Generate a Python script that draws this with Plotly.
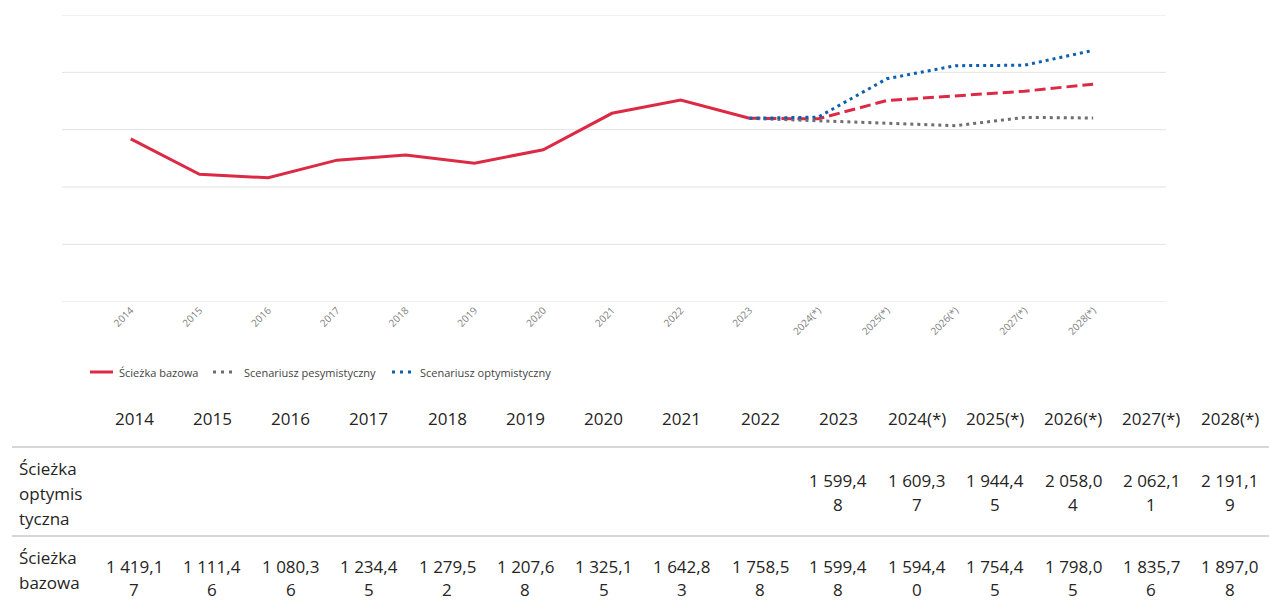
import plotly.graph_objects as go

# --- data -------------------------------------------------------------
years = ["2014", "2015", "2016", "2017", "2018", "2019", "2020", "2021",
         "2022", "2023", "2024(*)", "2025(*)", "2026(*)", "2027(*)", "2028(*)"]

base_hist = [1419.17, 1111.46, 1080.36, 1234.45, 1279.52, 1207.68, 1325.15,
             1642.83, 1758.58, 1599.48]
base_fcst = [1599.48, 1594.40, 1754.45, 1798.05, 1835.76, 1897.08]
optim = [1599.48, 1609.37, 1944.45, 2058.04, 2062.11, 2191.19]
pesym = [1599.48, 1580.0, 1560.0, 1535.0, 1607.0, 1602.0]

y_grid = [0, 500, 1000, 1500, 2000, 2500]

hist_years = years[:10]
fcst_years = years[9:]

W, H = 1269, 606
RED = "#dc2a45"
GREY = "#6e6e6e"
BLUE = "#0d5fb0"
TXT = "#252423"
GRID = "#e3e3e3"


def px(x):
    return x / W


def py(y):
    return 1 - y / H


def pl_num(v):
    """Polish number format: space thousands separator, comma decimals."""
    s = f"{v:,.2f}"
    return s.replace(",", " ").replace(".", ",")


def wrap(s, n=7):
    return [s[i:i + n] for i in range(0, len(s), n)]


fig = go.Figure()

fig.add_trace(go.Scatter(x=hist_years, y=base_hist, mode="lines",
                         line=dict(color=RED, width=3), name="Ścieżka bazowa"))
fig.add_trace(go.Scatter(x=fcst_years, y=base_fcst, mode="lines",
                         line=dict(color=RED, width=3, dash="11px,5px"),
                         name="Ścieżka bazowa (prognoza)"))
fig.add_trace(go.Scatter(x=fcst_years, y=pesym, mode="lines",
                         line=dict(color=GREY, width=3, dash="3px,4px"),
                         name="Scenariusz pesymistyczny"))
fig.add_trace(go.Scatter(x=fcst_years, y=optim, mode="lines",
                         line=dict(color=BLUE, width=3, dash="3px,4px"),
                         name="Scenariusz optymistyczny"))

shapes = []
annotations = []

# horizontal grid, including the lines at both ends of the value range
for g in y_grid:
    shapes.append(dict(type="line", xref="x domain", yref="y",
                       x0=0, x1=1, y0=g, y1=g, layer="below",
                       line=dict(color=GRID, width=1)))

# --- legend drawn under the chart ------------------------------------
leg_y = 372
legend_items = [
    ("Ścieżka bazowa", RED, "solid", 90, 113, 117),
    ("Scenariusz pesymistyczny", GREY, "3px,5px", 213, 234, 242),
    ("Scenariusz optymistyczny", BLUE, "3px,5px", 392, 413, 418),
]
for label, col, dash, x0, x1, tx in legend_items:
    shapes.append(dict(type="line", xref="paper", yref="paper",
                       x0=px(x0), x1=px(x1), y0=py(leg_y), y1=py(leg_y),
                       line=dict(color=col, width=3, dash=dash)))
    annotations.append(dict(text=label, xref="paper", yref="paper",
                            x=px(tx), y=py(leg_y), xanchor="left", yanchor="middle",
                            showarrow=False,
                            font=dict(size=11, color="#444444", family="Open Sans")))

# --- data table -------------------------------------------------------
col0 = 134
col_step = 78.25
tfont = dict(size=17, color=TXT, family="Open Sans")


def cell(text, x, y, anchor="center"):
    annotations.append(dict(text=text, xref="paper", yref="paper",
                            x=px(x), y=py(y), xanchor=anchor, yanchor="middle",
                            showarrow=False, font=tfont))


for i, yr in enumerate(years):
    cell(yr, col0 + i * col_step, 418)

for yline in (447, 536):
    shapes.append(dict(type="line", xref="paper", yref="paper",
                       x0=px(12), x1=1, y0=py(yline), y1=py(yline),
                       line=dict(color="#d6d6d6", width=2)))

# optimistic row
for j, part in enumerate(["Ścieżka", "optymis", "tyczna"]):
    cell(part, 17, 468 + 25 * j, "left")
for k, v in enumerate(optim):
    i = 9 + k
    for j, part in enumerate(wrap(pl_num(v))):
        cell(part, col0 + i * col_step, 480 + 24 * j)

# base row
for j, part in enumerate(["Ścieżka", "bazowa"]):
    cell(part, 17, 557 + 25 * j, "left")
base_all = base_hist + base_fcst[1:]
for i, v in enumerate(base_all):
    for j, part in enumerate(wrap(pl_num(v))):
        cell(part, col0 + i * col_step, 566 + 23 * j)

fig.update_layout(
    width=W, height=H,
    margin=dict(l=0, r=0, t=0, b=0),
    paper_bgcolor="white", plot_bgcolor="white",
    showlegend=False,
    font=dict(family="Open Sans"),
    xaxis=dict(type="category", categoryorder="array", categoryarray=years,
               range=[-1.0, 15.06], domain=[px(62), px(1166)],
               showgrid=False, showline=False, zeroline=False,
               tickangle=-45, tickfont=dict(size=10, color="#7f7f7f"),
               ticks=""),
    yaxis=dict(range=[0, 2500], domain=[py(301.7), py(15)],
               showticklabels=False, showgrid=False,
               zeroline=False, showline=False, ticks=""),
    shapes=shapes,
    annotations=annotations,
)

fig.write_html("out.html")
